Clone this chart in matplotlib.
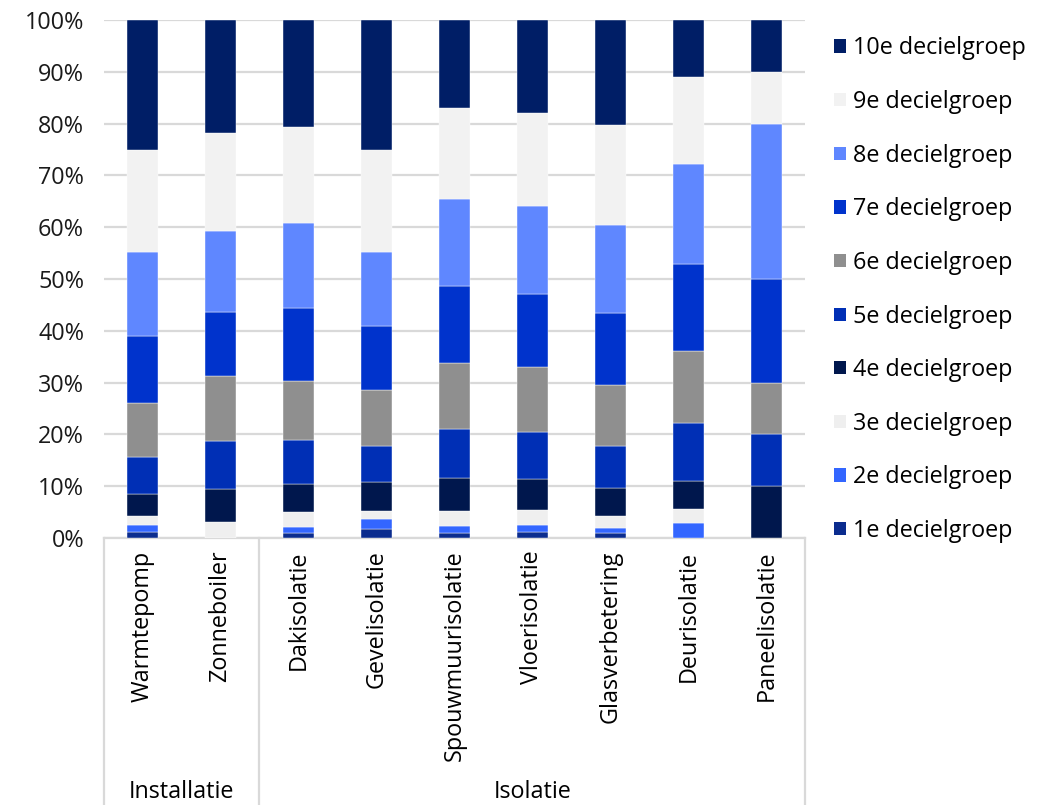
import matplotlib
matplotlib.use("Agg")
import matplotlib.pyplot as plt
from matplotlib.patches import Patch
import numpy as np

categories = ["Warmtepomp", "Zonneboiler", "Dakisolatie", "Gevelisolatie",
              "Spouwmuurisolatie", "Vloerisolatie", "Glasverbetering",
              "Deurisolatie", "Paneelisolatie"]
groups = ["Installatie", "Isolatie"]
group_sizes = [2, 7]

series_names = ["1e decielgroep", "2e decielgroep", "3e decielgroep", "4e decielgroep",
                "5e decielgroep", "6e decielgroep", "7e decielgroep", "8e decielgroep",
                "9e decielgroep", "10e decielgroep"]

# shares in % per category (1e .. 10e decielgroep)
d1 = [1.2, 0.0, 1.0, 1.8, 1.0, 1.1, 1.0, 0.0, 0.0]
d2 = [1.3, 0.0, 1.1, 1.8, 1.3, 1.4, 1.0, 2.8, 0.0]
d3 = [1.8, 3.1, 2.9, 1.7, 3.0, 3.0, 2.3, 2.8, 0.0]
d4 = [4.1, 6.3, 5.4, 5.5, 6.3, 5.8, 5.3, 5.5, 10.0]
d5 = [7.2, 9.4, 8.5, 7.0, 9.5, 9.2, 8.2, 11.1, 10.0]
d6 = [10.4, 12.5, 11.5, 10.8, 12.7, 12.5, 11.8, 13.9, 10.0]
d7 = [13.0, 12.4, 14.0, 12.3, 14.8, 14.2, 13.9, 16.7, 20.0]
d8 = [16.2, 15.6, 16.5, 14.4, 16.8, 16.8, 16.9, 19.4, 30.0]
d9 = [19.8, 18.8, 18.4, 19.7, 17.7, 18.0, 19.3, 16.7, 10.0]
d10 = [25.0, 21.9, 20.7, 25.0, 16.9, 18.0, 20.3, 11.1, 10.0]

series = [d1, d2, d3, d4, d5, d6, d7, d8, d9, d10]
colors = ["#0B2C8E", "#3366FF", "#EFEFEF", "#00174D", "#002FB5",
          "#8F8F8F", "#0033CC", "#5F87FF", "#F2F2F2", "#001E66"]

plt.rcParams['font.family'] = ['Open Sans', 'DejaVu Sans']
FS = 16.8

fig = plt.figure(figsize=(10.45, 8.05), dpi=100)
ax = fig.add_axes([103.5 / 1045, (805 - 538) / 805, (805.3 - 103.5) / 1045, 518 / 805])

x = np.arange(len(categories))
bottom = np.zeros(len(categories))
handles = []
for name, vals, col in zip(series_names, series, colors):
    vals = np.array(vals, dtype=float)
    ax.bar(x, vals, 0.40, bottom=bottom, color=col, edgecolor="white",
           linewidth=0.3, zorder=3)
    bottom += vals
    handles.append(Patch(facecolor=col, edgecolor="none", label=name))

ax.set_xlim(-0.5, len(categories) - 0.5)
ax.set_ylim(0, 100)
ax.set_yticks(np.arange(0, 101, 10))
ax.set_yticklabels([f"{v}%" for v in range(0, 101, 10)], fontsize=FS, color="#1a1a1a")
ax.yaxis.grid(True, color="#D9D9D9", linewidth=1.6, zorder=0)
ax.set_axisbelow(True)
ax.tick_params(axis="y", length=0, pad=14)
ax.set_xticks(x)
ax.set_xticklabels(categories, rotation=90, fontsize=FS, va="top", ha="center")
ax.tick_params(axis="x", length=0, pad=9)
for s in ["top", "right", "left"]:
    ax.spines[s].set_visible(False)
ax.spines["bottom"].set_color("#D9D9D9")
ax.spines["bottom"].set_linewidth(1.6)

# group separators and labels
trans = ax.get_xaxis_transform()
bounds = [-0.5]
for n in group_sizes:
    bounds.append(bounds[-1] + n)
for b in bounds:
    ax.plot([b, b], [0, -0.52], transform=trans, color="#D9D9D9", lw=1.6,
            clip_on=False)
for g, lo, hi in zip(groups, bounds[:-1], bounds[1:]):
    ax.text((lo + hi) / 2, -0.49, g, transform=trans, ha="center", va="center",
            fontsize=FS)

fig.legend(handles[::-1], [h.get_label() for h in handles[::-1]],
           loc="upper left", bbox_to_anchor=(825 / 1045, 1 - 27 / 805),
           frameon=False, fontsize=FS, handlelength=0.5, handleheight=0.5,
           handletextpad=0.3, labelspacing=1.27, borderaxespad=0)

fig.savefig("out.png", dpi=100)
